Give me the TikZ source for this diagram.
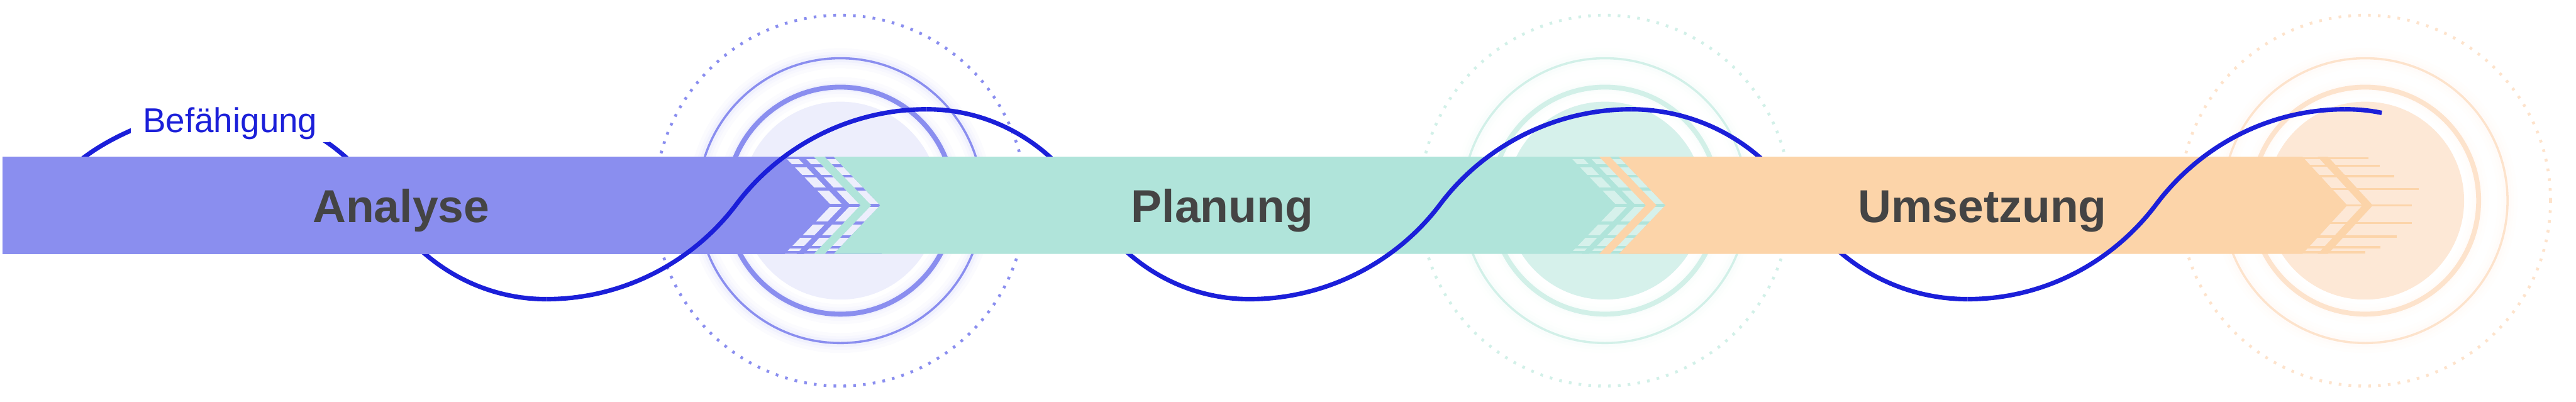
\documentclass[tikz,border=0pt]{standalone}
\usepackage{fontspec}
\setmainfont{Liberation Sans}
\usepackage{xcolor}
\definecolor{analyse-purple}{HTML}{8A8EEF}
\definecolor{planung-mint}{HTML}{B0E4DA}
\definecolor{umsetzung-peach}{HTML}{FCD4A9}
\definecolor{analyse-disc}{HTML}{EDEEFC}
\definecolor{planung-disc}{HTML}{D6F1EB}
\definecolor{umsetzung-disc}{HTML}{FDE8D6}
\definecolor{planung-ring}{HTML}{D2F0E8}
\definecolor{umsetzung-ring}{HTML}{FDE3CC}
\definecolor{wave-blue}{HTML}{1B1FD9}
\definecolor{label-grey}{HTML}{444444}

\begin{document}
\begin{tikzpicture}[
    wave/.style={draw=wave-blue, line width=0.1cm},
    phase/.style={font=\fontsize{29.3}{35}\selectfont\bfseries, text=label-grey, anchor=base},
    dotring/.style={line width=0.065cm, dash pattern=on 0.06cm off 0.16cm}]
  \useasboundingbox (0,0) rectangle (57.54,-8.97);

  \foreach \cx/\ring/\disc in {18.77/analyse-purple/analyse-disc,
      35.85/planung-ring/planung-disc, 52.83/umsetzung-ring/umsetzung-disc} {
    \draw[dotring, draw=\ring] (\cx,-4.48) circle (4.14);
    \foreach \w/\o in {0.45/0.03, 0.3/0.04, 0.18/0.06} {
      \draw[draw=\ring, line width=\w cm, opacity=\o] (\cx,-4.48) circle (3.18) (\cx,-4.48) circle (2.535);
    }
    \draw[draw=\ring, line width=0.05cm] (\cx,-4.48) circle (3.18);
    \fill[fill=\disc] (\cx,-4.48) circle (2.21);
    \draw[draw=\ring, line width=0.11cm] (\cx,-4.48) circle (2.535);
  }

  \coordinate (start) at (1.83,-3.55);
  \coordinate (p0) at (4.95,-2.44);
  \coordinate (d1) at (8.575,-4.56);
  \coordinate (t1) at (12.20,-6.68);
  \coordinate (a1) at (16.45,-4.56);
  \coordinate (p1) at (20.70,-2.44);
  \coordinate (d2) at (24.305,-4.56);
  \coordinate (t2) at (27.91,-6.68);
  \coordinate (a2) at (32.17,-4.56);
  \coordinate (p2) at (36.43,-2.44);
  \coordinate (d3) at (40.19,-4.56);
  \coordinate (t3) at (43.95,-6.68);
  \coordinate (a3) at (48.165,-4.56);
  \coordinate (p3) at (52.38,-2.44);
  \coordinate (stop) at (53.20,-2.52);

  \draw[wave] (start) .. controls +(0.77,0.6) and +(-1.05,0) .. (p0)
    .. controls +(1.5,0) and +(-0.75,1.3) .. (d1)
    .. controls +(0.75,-1.3) and +(-1.5,0) .. (t1);
  \draw[wave] (p1) .. controls +(1.5,0) and +(-0.75,1.3) .. (d2)
    .. controls +(0.75,-1.3) and +(-1.5,0) .. (t2);
  \draw[wave] (p2) .. controls +(1.54,0) and +(-0.8,1.32) .. (d3)
    .. controls +(0.8,-1.32) and +(-1.54,0) .. (t3);
  \draw[wave] (p3) .. controls +(0.37,0) and +(-0.2,0.04) .. (stop);

  \node[fill=white, inner xsep=0.27cm, inner ysep=0.06cm, anchor=base, text=wave-blue,
        font=\fontsize{21.9}{26}\selectfont] (befaehigung) at (5.14,-2.95) {Befähigung};

  \fill[analyse-purple] (0.05,-3.50) rectangle (19.70,-5.67);
  \foreach \xo/\ca/\cb/\ch/\xe/\de in {17.58/analyse-purple/planung-mint/analyse-disc/37.30/0,
      35.12/planung-mint/umsetzung-peach/planung-disc/51.43/1.00} {
    \fill[fill=\ch] ({\xo-0.05},-3.50) -- ({\xo+0.99},-4.585) -- ({\xo-0.05},-5.67)
      -- ({\xo+0.21},-5.67) -- ({\xo+1.25},-4.585) -- ({\xo+0.21},-3.50) -- cycle;
    \fill[fill=\ch] ({\xo+0.38},-3.50) -- ({\xo+1.42},-4.585) -- ({\xo+0.38},-5.67)
      -- ({\xo+1.04},-5.67) -- ({\xo+2.08},-4.585) -- ({\xo+1.04},-3.50) -- cycle;
    \foreach \ly in {-3.53,-3.70,-3.93,-4.22,-4.585,-4.98,-5.28,-5.52,-5.63}
      \draw[draw=\ca, line width=0.06cm] ({\xo-0.1},\ly) -- ({\xo+2.1},\ly);
    \fill[fill=\cb] ({\xo+0.60},-3.50) -- ({\xo+1.64},-4.585) -- ({\xo+0.60},-5.67)
      -- ({\xo+0.84},-5.67) -- ({\xo+1.88},-4.585) -- ({\xo+0.84},-3.50) -- cycle;
    \fill[fill=\cb] ({\xo+1.04},-3.50) -- ({\xo+2.08},-4.585) -- ({\xo+1.04},-5.67)
      -- (\xe,-5.67) -- ({\xe+\de},-4.585) -- (\xe,-3.50) -- cycle;
  }
  \foreach \ly/\lx in {-3.53/52.90, -3.70/53.15, -3.93/53.48, -4.22/54.03, -4.585/53.87,
      -4.98/53.87, -5.28/53.54, -5.52/53.17, -5.63/52.83}
    \draw[umsetzung-peach, line width=0.05cm] (51.3,\ly) -- (\lx,\ly);
  \fill[umsetzung-peach] (51.77,-3.50) -- (52.77,-4.585) -- (51.77,-5.67)
    -- (52.00,-5.67) -- (53.00,-4.585) -- (52.00,-3.50) -- cycle;

  \draw[wave] (t1) .. controls +(1.67,0) and +(-1.0,-1.33) .. (a1)
    .. controls +(1.0,1.33) and +(-1.67,0) .. (p1);
  \draw[wave] (t2) .. controls +(1.67,0) and +(-1.0,-1.33) .. (a2)
    .. controls +(1.0,1.33) and +(-1.67,0) .. (p2);
  \draw[wave] (t3) .. controls +(1.67,0) and +(-1.0,-1.33) .. (a3)
    .. controls +(1.0,1.33) and +(-1.67,0) .. (p3);

  \node[phase] (analyse) at (8.96,-4.96) {Analyse};
  \node[phase] (planung) at (27.30,-4.96) {Planung};
  \node[phase] (umsetzung) at (44.28,-4.96) {Umsetzung};
\end{tikzpicture}
\end{document}
